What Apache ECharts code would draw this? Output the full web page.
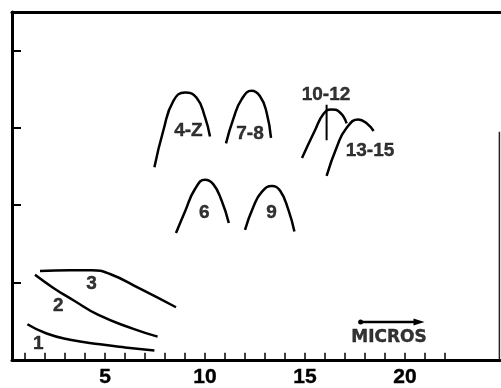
<!DOCTYPE html>
<html>
<head>
<meta charset="utf-8">
<script src="https://cdn.jsdelivr.net/npm/echarts@6/dist/echarts.min.js"></script>
<style>
html,body{margin:0;padding:0;background:#fff;}
#chart{width:501px;height:388px;}
</style>
</head>
<body>
<div id="chart"></div>
<script>
// x in microns, y in arbitrary units
const xTickValues = [1,2,3,4,5,6,7,8,9,10,11,12,13,14,15,16,17,18,19,20,21,22];
const xLabelValues = [5,10,15,20];

const curve1 = [[1.12,0.46],[2.08,0.34],[3.25,0.26],[4.75,0.2],[6.0,0.16],[7.47,0.12]];
const curve2 = [[1.5,1.1],[2.42,0.93],[3.42,0.77],[4.67,0.58],[6.42,0.4],[7.63,0.3]];
const curve3 = [[1.75,1.15],[3.25,1.16],[4.33,1.16],[5.25,1.11],[6.75,0.92],[8.55,0.68]];
const curve4Z = [[7.47,2.49],[7.92,2.97],[8.42,3.35],[9.0,3.46],[9.58,3.39],[10.0,3.14],[10.25,2.89]];
const curve78 = [[11.05,2.8],[11.42,3.12],[11.83,3.37],[12.33,3.48],[12.75,3.41],[13.08,3.2],[13.3,2.87]];
const curve1012 = [[14.85,2.61],[15.5,2.97],[15.92,3.18],[16.3,3.24],[16.75,3.2],[17.08,3.06]];
const marker1012 = [[16.08,3.3],[16.08,2.84]];
const curve1315 = [[16.08,2.38],[16.6,2.76],[17.05,2.99],[17.67,3.11],[18.08,3.06],[18.43,2.96]];
const curve6 = [[8.55,1.64],[9.0,1.92],[9.5,2.21],[10.0,2.33],[10.42,2.27],[10.83,2.06],[11.19,1.77]];
const curve9 = [[12.0,1.68],[12.42,1.98],[12.83,2.17],[13.35,2.25],[13.75,2.19],[14.17,1.94],[14.47,1.66]];
const rightEdge = [[24.72,0],[24.72,2.95]];
const scaleArrow = [[17.78,0.49],[20.7,0.49]];

const labelNames = ['1','2','3','4-Z','7-8','10-12','13-15','6','9'];
const labelX = [1.67,2.67,4.33,9.17,12.25,16.05,18.25,9.97,13.33];
const labelY = [0.21,0.70,0.99,2.96,2.93,3.43,2.70,1.90,1.90];
const unitLabel = {name:'MICROS', x:19.2, y:0.29};

const INK = '#000';
const curves = [curve1,curve2,curve3,curve4Z,curve78,curve1012,curve1315,curve6,curve9];
const series = curves.map(c => ({
  type:'line', data:c, smooth:0.5, symbol:'none', silent:true,
  lineStyle:{color:INK,width:2.5}
}));
series.push({type:'line', data:marker1012, symbol:'none', lineStyle:{color:INK,width:2}});
series.push({type:'line', data:rightEdge, symbol:'none', lineStyle:{color:'#222',width:1.5}});
series.push({type:'line', data:scaleArrow, lineStyle:{color:INK,width:2.5},
  symbol:(v,p)=> p.dataIndex===0 ? 'circle' : 'triangle',
  symbolSize:(v,p)=> p.dataIndex===0 ? 5 : [7,11],
  symbolRotate:(v,p)=> p.dataIndex===0 ? 0 : -90,
  itemStyle:{color:INK}
});
const labelStyle = {color:INK, fontFamily:'Liberation Sans', fontWeight:'bold',
  textBorderColor:INK, textBorderWidth:0.4};
series.push({type:'scatter', symbolSize:0,
  data: labelNames.map((n,i)=>({name:n, value:[labelX[i],labelY[i]]})),
  label:Object.assign({show:true, position:'inside', formatter:'{b}', fontSize:19}, labelStyle)
});
series.push({type:'scatter', symbolSize:0,
  data:[{name:unitLabel.name, value:[unitLabel.x,unitLabel.y]}],
  label:Object.assign({show:true, position:'inside', formatter:'{b}', fontSize:17}, labelStyle, {fontFamily:'DejaVu Sans'})
});

const chart = echarts.init(document.getElementById('chart'), null, {renderer:'canvas'});
chart.setOption({
  animation:false,
  backgroundColor:'#fff',
  grid:{left:12, top:12, right:1, bottom:20, containLabel:false},
  xAxis:[{
    type:'value', min:0.35, max:24.75, position:'bottom',
    axisLine:{show:true, onZero:false, lineStyle:{color:INK,width:3}},
    axisTick:{show:true, inside:true, length:7, customValues:xTickValues, lineStyle:{color:INK,width:1.5}},
    axisLabel:Object.assign({show:true, customValues:xLabelValues, margin:7, fontSize:21}, labelStyle),
    splitLine:{show:false}
  },{
    type:'value', min:0.35, max:24.75, position:'top',
    axisLine:{show:true, onZero:false, lineStyle:{color:INK,width:3}},
    axisTick:{show:false}, axisLabel:{show:false}, splitLine:{show:false}
  }],
  yAxis:{
    type:'value', min:0, max:4.5, interval:1,
    axisLine:{show:true, onZero:false, lineStyle:{color:INK,width:3}},
    axisTick:{show:true, inside:true, length:9, lineStyle:{color:INK,width:2}},
    axisLabel:{show:false}, splitLine:{show:false}
  },
  series: series
});
</script>
</body>
</html>
